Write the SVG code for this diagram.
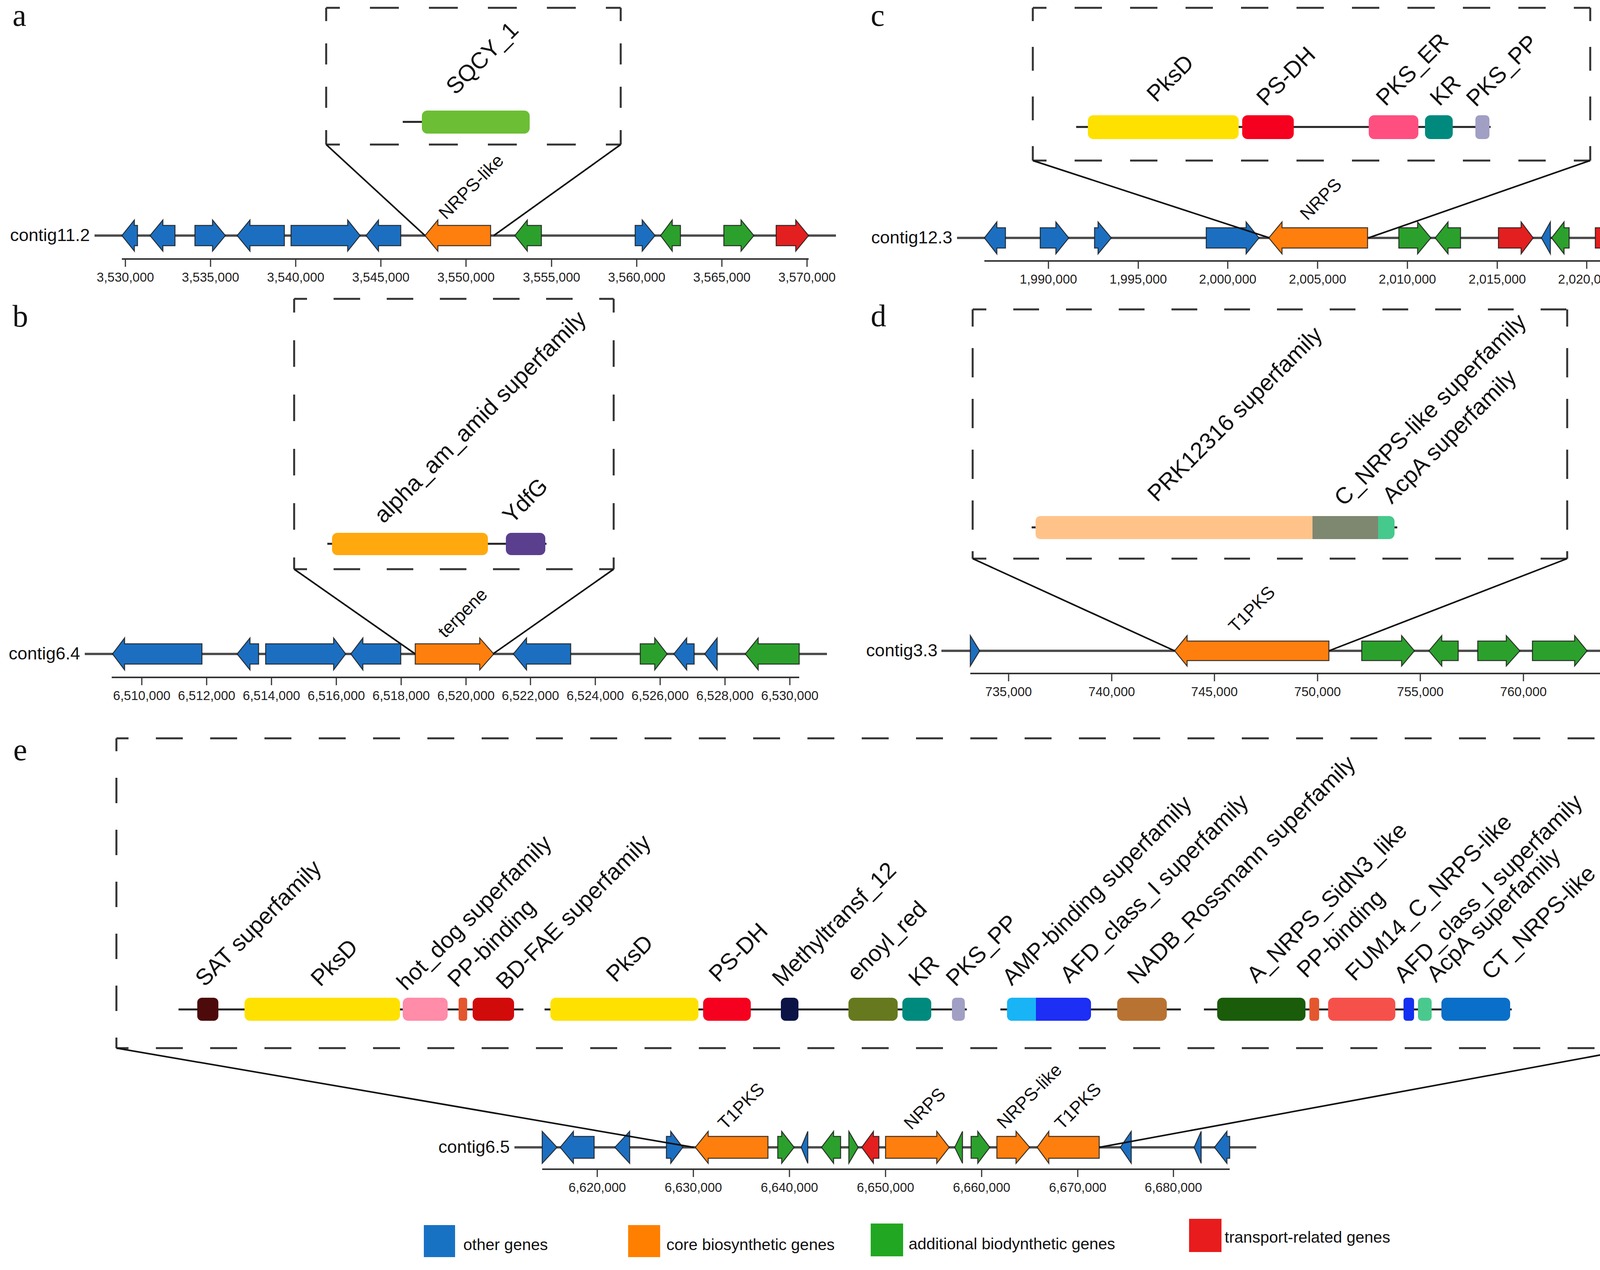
<svg xmlns="http://www.w3.org/2000/svg" width="4370" height="3251" viewBox="0 0 4370 3251">
<style>
text{font-family:"Liberation Sans",Arial,sans-serif;fill:#111}
.pl{font-family:"Liberation Serif","Times New Roman",serif;font-size:80px}
.dom{font-size:59px}
.gl{font-size:46px}
.ax{font-size:33px;text-anchor:middle;fill:#222}
.cn{font-size:45px;text-anchor:end}
.lg{font-size:41px}
.bx{fill:none;stroke:#333;stroke-width:5}
.cl{stroke:#111;stroke-width:4;fill:none}
.ct{stroke:#4d4d4d;stroke-width:6}
.axl{stroke:#333;stroke-width:4}
.tk{stroke:#333;stroke-width:3}
.dr{stroke:#222;stroke-width:5}
.g{stroke:#1a1a1a;stroke-width:2.5;stroke-opacity:.85}
.bl{fill:#1c6fc0}.or{fill:#ff7f0e}.gr{fill:#2ca02c}.rd{fill:#e41f1f}
</style>
<rect width="4370" height="3251" fill="#fff"/>

<!-- ================= Panel a ================= -->
<g id="panel-a">
<text class="pl" x="32" y="66">a</text>
<g id="a-box">
<line class="bx" x1="835" y1="20" x2="1589" y2="20" stroke-dasharray="74 77" stroke-dashoffset="39"/>
<line class="bx" x1="835" y1="370" x2="1589" y2="370" stroke-dasharray="74 77" stroke-dashoffset="39"/>
<line class="bx" x1="835" y1="20" x2="835" y2="370" stroke-dasharray="54 57" stroke-dashoffset="20"/>
<line class="bx" x1="1589" y1="20" x2="1589" y2="370" stroke-dasharray="54 57" stroke-dashoffset="20"/>
</g>
<line class="dr" x1="1031" y1="312" x2="1356" y2="312"/>
<g id="a-d-SQCY_1"><rect x="1080" y="283" width="276" height="59" rx="14" fill="#6cbe35"/>
<text class="dom" transform="translate(1166,245) rotate(-45)">SQCY_1</text></g>

<text class="cn" x="230" y="617">contig11.2</text>
<line class="ct" x1="242" y1="603" x2="2140" y2="603"/>
<g id="a-g1"><polygon class="g bl" points="312,603 344,563 344,577 352,577 352,629 344,629 344,643"/></g>
<g id="a-g2"><polygon class="g bl" points="384,603 417,563 417,577 448,577 448,629 417,629 417,643"/></g>
<g id="a-g3"><polygon class="g bl" points="499,577 544,577 544,563 577,603 544,643 544,629 499,629"/></g>
<g id="a-g4"><polygon class="g bl" points="607,603 640,563 640,577 728,577 728,629 640,629 640,643"/></g>
<g id="a-g5"><polygon class="g bl" points="745,577 890,577 890,563 922,603 890,643 890,629 745,629"/></g>
<g id="a-g6"><polygon class="g bl" points="937,603 969,563 969,577 1026,577 1026,629 969,629 969,643"/></g>
<g id="a-g7"><polygon class="g or" points="1088,603 1121,563 1121,577 1256,577 1256,629 1121,629 1121,643"/>
<text class="gl" transform="translate(1142,564) rotate(-45)">NRPS-like</text></g>
<g id="a-g8"><polygon class="g gr" points="1318,603 1350,563 1350,577 1386,577 1386,629 1350,629 1350,643"/></g>
<g id="a-g9"><polygon class="g bl" points="1626,577 1644,577 1644,563 1677,603 1644,643 1644,629 1626,629"/></g>
<g id="a-g10"><polygon class="g gr" points="1691,603 1721,563 1721,577 1742,577 1742,629 1721,629 1721,643"/></g>
<g id="a-g11"><polygon class="g gr" points="1853,577 1897,577 1897,563 1930,603 1897,643 1897,629 1853,629"/></g>
<g id="a-g12"><polygon class="g rd" points="1987,577 2037,577 2037,563 2070,603 2037,643 2037,629 1987,629"/></g>

<g id="a-axis">
<line class="axl" x1="312" y1="663" x2="2070" y2="663"/>
<path class="tk" d="M321 663v20M539 663v20M757 663v20M975 663v20M1193 663v20M1412 663v20M1630 663v20M1848 663v20M2066 663v20"/>
<text class="ax" x="321" y="721">3,530,000</text>
<text class="ax" x="539" y="721">3,535,000</text>
<text class="ax" x="757" y="721">3,540,000</text>
<text class="ax" x="975" y="721">3,545,000</text>
<text class="ax" x="1193" y="721">3,550,000</text>
<text class="ax" x="1412" y="721">3,555,000</text>
<text class="ax" x="1630" y="721">3,560,000</text>
<text class="ax" x="1848" y="721">3,565,000</text>
<text class="ax" x="2066" y="721">3,570,000</text>
</g>
</g>

<!-- ================= Panel b ================= -->
<g id="panel-b">
<text class="pl" x="32" y="836">b</text>
<g id="b-box">
<line class="bx" x1="753" y1="765" x2="1571" y2="765" stroke-dasharray="68 68" stroke-dashoffset="35"/>
<line class="bx" x1="753" y1="1457" x2="1571" y2="1457" stroke-dasharray="68 68" stroke-dashoffset="35"/>
<line class="bx" x1="753" y1="765" x2="753" y2="1457" stroke-dasharray="68 71" stroke-dashoffset="33"/>
<line class="bx" x1="1571" y1="765" x2="1571" y2="1457" stroke-dasharray="68 71" stroke-dashoffset="33"/>
</g>
<line class="dr" x1="838" y1="1392" x2="1399" y2="1392"/>
<g id="b-d-alpha"><rect x="850" y="1364" width="399" height="57" rx="14" fill="#ffa90e"/>
<text class="dom" transform="translate(982,1342) rotate(-45)">alpha_am_amid superfamily</text></g>
<g id="b-d-YdfG"><rect x="1295" y="1364" width="101" height="57" rx="14" fill="#5a3f8e"/>
<text class="dom" transform="translate(1311,1343) rotate(-45)">YdfG</text></g>

<text class="cn" x="205" y="1688">contig6.4</text>
<line class="ct" x1="217" y1="1674" x2="2117" y2="1674"/>
<g id="b-g1"><polygon class="g bl" points="288,1674 319,1633 319,1648 517,1648 517,1700 319,1700 319,1715"/></g>
<g id="b-g2"><polygon class="g bl" points="607,1674 640,1633 640,1648 662,1648 662,1700 640,1700 640,1715"/></g>
<g id="b-g3"><polygon class="g bl" points="680,1648 854,1648 854,1633 885,1674 854,1715 854,1700 680,1700"/></g>
<g id="b-g4"><polygon class="g bl" points="898,1674 929,1633 929,1648 1026,1648 1026,1700 929,1700 929,1715"/></g>
<g id="b-g5"><polygon class="g or" points="1063,1648 1228,1648 1228,1633 1264,1674 1228,1715 1228,1700 1063,1700"/>
<text class="gl" transform="translate(1140,1635) rotate(-45)">terpene</text></g>
<g id="b-g6"><polygon class="g bl" points="1314,1674 1348,1633 1348,1648 1461,1648 1461,1700 1348,1700 1348,1715"/></g>
<g id="b-g7"><polygon class="g gr" points="1639,1648 1676,1648 1676,1633 1708,1674 1676,1715 1676,1700 1639,1700"/></g>
<g id="b-g8"><polygon class="g bl" points="1725,1674 1758,1633 1758,1648 1777,1648 1777,1700 1758,1700 1758,1715"/></g>
<g id="b-g9"><polygon class="g bl" points="1804,1674 1836,1633 1836,1715"/></g>
<g id="b-g10"><polygon class="g gr" points="1908,1674 1941,1633 1941,1648 2046,1648 2046,1700 1941,1700 1941,1715"/></g>

<g id="b-axis">
<line class="axl" x1="286" y1="1734" x2="2046" y2="1734"/>
<path class="tk" d="M363 1734v20M529 1734v20M695 1734v20M861 1734v20M1027 1734v20M1193 1734v20M1358 1734v20M1524 1734v20M1690 1734v20M1856 1734v20M2022 1734v20"/>
<text class="ax" x="363" y="1792">6,510,000</text>
<text class="ax" x="529" y="1792">6,512,000</text>
<text class="ax" x="695" y="1792">6,514,000</text>
<text class="ax" x="861" y="1792">6,516,000</text>
<text class="ax" x="1027" y="1792">6,518,000</text>
<text class="ax" x="1193" y="1792">6,520,000</text>
<text class="ax" x="1358" y="1792">6,522,000</text>
<text class="ax" x="1524" y="1792">6,524,000</text>
<text class="ax" x="1690" y="1792">6,526,000</text>
<text class="ax" x="1856" y="1792">6,528,000</text>
<text class="ax" x="2022" y="1792">6,530,000</text>
</g>
</g>

<!-- ================= Panel c ================= -->
<g id="panel-c">
<text class="pl" x="2229" y="66">c</text>
<g id="c-box">
<line class="bx" x1="2644" y1="20" x2="4071" y2="20" stroke-dasharray="70 72" stroke-dashoffset="35"/>
<line class="bx" x1="2644" y1="411" x2="4071" y2="411" stroke-dasharray="70 72" stroke-dashoffset="35"/>
<line class="bx" x1="2644" y1="20" x2="2644" y2="411" stroke-dasharray="61 66" stroke-dashoffset="27"/>
<line class="bx" x1="4071" y1="20" x2="4071" y2="411" stroke-dasharray="61 66" stroke-dashoffset="27"/>
</g>
<line class="dr" x1="2755" y1="325" x2="3816" y2="325"/>
<g id="c-d-PksD"><rect x="2785" y="295" width="386" height="61" rx="14" fill="#ffe100"/>
<text class="dom" transform="translate(2960,264) rotate(-45)">PksD</text></g>
<g id="c-d-PS-DH"><rect x="3180" y="295" width="132" height="61" rx="14" fill="#f5001e"/>
<text class="dom" transform="translate(3241,274) rotate(-45)">PS-DH</text></g>
<g id="c-d-PKS_ER"><rect x="3504" y="295" width="127" height="61" rx="14" fill="#ff4f80"/>
<text class="dom" transform="translate(3547,274) rotate(-45)">PKS_ER</text></g>
<g id="c-d-KR"><rect x="3648" y="295" width="71" height="61" rx="14" fill="#008a7e"/>
<text class="dom" transform="translate(3685,274) rotate(-45)">KR</text></g>
<g id="c-d-PKS_PP"><rect x="3777" y="295" width="36" height="61" rx="10" fill="#a19fc4"/>
<text class="dom" transform="translate(3778,276) rotate(-45)">PKS_PP</text></g>

<text class="cn" x="2438" y="623">contig12.3</text>
<line class="ct" x1="2450" y1="609" x2="4349" y2="609"/>
<g id="c-g1"><polygon class="g bl" points="2520,609 2552,568 2552,583 2574,583 2574,635 2552,635 2552,650"/></g>
<g id="c-g2"><polygon class="g bl" points="2663,583 2703,583 2703,568 2736,609 2703,650 2703,635 2663,635"/></g>
<g id="c-g3"><polygon class="g bl" points="2802,583 2811,583 2811,568 2845,609 2811,650 2811,635 2802,635"/></g>
<g id="c-g4"><polygon class="g bl" points="3088,583 3190,583 3190,568 3223,609 3190,650 3190,635 3088,635"/></g>
<g id="c-g5"><polygon class="g or" points="3248,609 3282,568 3282,583 3501,583 3501,635 3282,635 3282,650"/>
<text class="gl" transform="translate(3347,566) rotate(-45)">NRPS</text></g>
<g id="c-g6"><polygon class="g gr" points="3581,583 3629,583 3629,568 3663,609 3629,650 3629,635 3581,635"/></g>
<g id="c-g7"><polygon class="g gr" points="3674,609 3707,568 3707,583 3739,583 3739,635 3707,635 3707,650"/></g>
<g id="c-g8"><polygon class="g rd" points="3836,583 3894,583 3894,568 3925,609 3894,650 3894,635 3836,635"/></g>
<g id="c-g9"><polygon class="g bl" points="3946,609 3969,568 3969,650"/></g>
<g id="c-g10"><polygon class="g gr" points="3972,609 4004,568 4004,583 4017,583 4017,635 4004,635 4004,650"/></g>
<g id="c-g11"><polygon class="g rd" points="4084,583 4245,583 4245,568 4278,609 4245,650 4245,635 4084,635"/></g>

<g id="c-axis">
<line class="axl" x1="2520" y1="668" x2="4278" y2="668"/>
<path class="tk" d="M2684 668v20M2914 668v20M3143 668v20M3373 668v20M3603 668v20M3833 668v20M4062 668v20"/>
<text class="ax" x="2684" y="726">1,990,000</text>
<text class="ax" x="2914" y="726">1,995,000</text>
<text class="ax" x="3143" y="726">2,000,000</text>
<text class="ax" x="3373" y="726">2,005,000</text>
<text class="ax" x="3603" y="726">2,010,000</text>
<text class="ax" x="3833" y="726">2,015,000</text>
<text class="ax" x="4062" y="726">2,020,000</text>
</g>
</g>

<!-- ================= Panel d ================= -->
<g id="panel-d">
<text class="pl" x="2229" y="835">d</text>
<g id="d-box">
<line class="bx" x1="2490" y1="792" x2="4012" y2="792" stroke-dasharray="66 69" stroke-dashoffset="31"/>
<line class="bx" x1="2490" y1="1430" x2="4012" y2="1430" stroke-dasharray="66 69" stroke-dashoffset="31"/>
<line class="bx" x1="2490" y1="792" x2="2490" y2="1430" stroke-dasharray="75 55" stroke-dashoffset="31"/>
<line class="bx" x1="4012" y1="792" x2="4012" y2="1430" stroke-dasharray="75 55" stroke-dashoffset="31"/>
</g>
<line class="dr" x1="2641" y1="1350" x2="3577" y2="1350"/>
<g id="d-d-AcpA"><rect x="3505" y="1321" width="65" height="59" rx="14" fill="#46c98c"/>
<text class="dom" transform="translate(3563,1292) rotate(-45)">AcpA superfamily</text></g>
<g id="d-d-C_NRPS"><rect x="3357" y="1321" width="171" height="59" fill="#7e8770"/>
<text class="dom" transform="translate(3440,1298) rotate(-45)">C_NRPS-like superfamily</text></g>
<g id="d-d-PRK12316"><path d="M3360 1321H2665Q2651 1321 2651 1335V1366Q2651 1380 2665 1380H3360Z" fill="#ffc38a"/>
<text class="dom" transform="translate(2962,1287) rotate(-45)">PRK12316 superfamily</text></g>

<text class="cn" x="2400" y="1680">contig3.3</text>
<line class="ct" x1="2410" y1="1666" x2="4310" y2="1666"/>
<g id="d-g1"><polygon class="g bl" points="2484,1627 2508,1666 2484,1705"/></g>
<g id="d-g2"><polygon class="g or" points="3007,1666 3039,1627 3039,1641 3402,1641 3402,1691 3039,1691 3039,1705"/>
<text class="gl" transform="translate(3164,1622) rotate(-45)">T1PKS</text></g>
<g id="d-g3"><polygon class="g gr" points="3486,1641 3588,1641 3588,1627 3621,1666 3588,1705 3588,1691 3486,1691"/></g>
<g id="d-g4"><polygon class="g gr" points="3658,1666 3691,1627 3691,1641 3733,1641 3733,1691 3691,1691 3691,1705"/></g>
<g id="d-g5"><polygon class="g gr" points="3783,1641 3856,1641 3856,1627 3891,1666 3856,1705 3856,1691 3783,1691"/></g>
<g id="d-g6"><polygon class="g gr" points="3923,1641 4031,1641 4031,1627 4063,1666 4031,1705 4031,1691 3923,1691"/></g>
<g id="d-g7"><polygon class="g bl" points="4201,1666 4230,1627 4230,1641 4244,1641 4244,1691 4230,1691 4230,1705"/></g>

<g id="d-axis">
<line class="axl" x1="2484" y1="1724" x2="4240" y2="1724"/>
<path class="tk" d="M2582 1724v20M2846 1724v20M3109 1724v20M3373 1724v20M3636 1724v20M3900 1724v20M4163 1724v20"/>
<text class="ax" x="2582" y="1782">735,000</text>
<text class="ax" x="2846" y="1782">740,000</text>
<text class="ax" x="3109" y="1782">745,000</text>
<text class="ax" x="3373" y="1782">750,000</text>
<text class="ax" x="3636" y="1782">755,000</text>
<text class="ax" x="3900" y="1782">760,000</text>
<text class="ax" x="4163" y="1782">765,000</text>
</g>
</g>

<!-- ================= Panel e ================= -->
<g id="panel-e">
<text class="pl" x="34" y="1946">e</text>
<g id="e-box">
<line class="bx" x1="298" y1="1890" x2="4192" y2="1890" stroke-dasharray="69 70" stroke-dashoffset="38"/>
<line class="bx" x1="298" y1="2683" x2="4192" y2="2683" stroke-dasharray="69 70" stroke-dashoffset="38"/>
<line class="bx" x1="298" y1="1890" x2="298" y2="2683" stroke-dasharray="65 68" stroke-dashoffset="32"/>
<line class="bx" x1="4192" y1="1890" x2="4192" y2="2683" stroke-dasharray="65 68" stroke-dashoffset="32"/>
</g>
<path class="dr" d="M457 2584H1340M1394 2584H2475M2561 2584H3023M3082 2584H3870"/>
<g id="e-d-SAT"><rect x="505" y="2554" width="54" height="59" rx="12" fill="#4d0a0a"/>
<text class="dom" transform="translate(524,2528) rotate(-45)">SAT superfamily</text></g>
<g id="e-d-PksD1"><rect x="626" y="2554" width="398" height="59" rx="14" fill="#ffe100"/>
<text class="dom" transform="translate(820,2528) rotate(-45)">PksD</text></g>
<g id="e-d-hot_dog"><rect x="1031" y="2554" width="115" height="59" rx="14" fill="#ff8ca8"/>
<text class="dom" transform="translate(1040,2538) rotate(-45)">hot_dog superfamily</text></g>
<g id="e-d-PP1"><rect x="1174" y="2554" width="22" height="59" rx="6" fill="#e4572e"/>
<text class="dom" transform="translate(1170,2530) rotate(-45)">PP-binding</text></g>
<g id="e-d-BD-FAE"><rect x="1210" y="2554" width="106" height="59" rx="14" fill="#d10a0a"/>
<text class="dom" transform="translate(1294,2536) rotate(-45)">BD-FAE superfamily</text></g>
<g id="e-d-PksD2"><rect x="1409" y="2554" width="379" height="59" rx="14" fill="#ffe100"/>
<text class="dom" transform="translate(1576,2517) rotate(-45)">PksD</text></g>
<g id="e-d-PS-DH"><rect x="1800" y="2554" width="122" height="59" rx="14" fill="#f5001e"/>
<text class="dom" transform="translate(1839,2517) rotate(-45)">PS-DH</text></g>
<g id="e-d-Methyltransf"><rect x="1999" y="2554" width="45" height="59" rx="12" fill="#0c1445"/>
<text class="dom" transform="translate(2001,2528) rotate(-45)">Methyltransf_12</text></g>
<g id="e-d-enoyl"><rect x="2172" y="2554" width="126" height="59" rx="14" fill="#66791e"/>
<text class="dom" transform="translate(2193,2514) rotate(-45)">enoyl_red</text></g>
<g id="e-d-KR"><rect x="2310" y="2554" width="74" height="59" rx="14" fill="#008a7e"/>
<text class="dom" transform="translate(2350,2528) rotate(-45)">KR</text></g>
<g id="e-d-PKS_PP"><rect x="2437" y="2554" width="33" height="59" rx="10" fill="#a19fc4"/>
<text class="dom" transform="translate(2446,2528) rotate(-45)">PKS_PP</text></g>
<g id="e-d-AMP"><rect x="2578" y="2554" width="215" height="59" rx="14" fill="#1d2ef5"/>
<path d="M2652 2554H2592Q2578 2554 2578 2568V2599Q2578 2613 2592 2613H2652Z" fill="#18b4f5"/>
<text class="dom" transform="translate(2590,2525) rotate(-45)">AMP-binding superfamily</text></g>
<g id="e-d-AFD1"><text class="dom" transform="translate(2738,2519) rotate(-45)">AFD_class_I superfamily</text></g>
<g id="e-d-NADB"><rect x="2860" y="2554" width="127" height="59" rx="14" fill="#b87333"/>
<text class="dom" transform="translate(2910,2522) rotate(-45)">NADB_Rossmann superfamily</text></g>
<g id="e-d-A_NRPS"><rect x="3116" y="2554" width="226" height="59" rx="14" fill="#1a5c0a"/>
<text class="dom" transform="translate(3216,2519) rotate(-45)">A_NRPS_SidN3_like</text></g>
<g id="e-d-PP2"><rect x="3352" y="2554" width="25" height="59" rx="7" fill="#e4572e"/>
<text class="dom" transform="translate(3344,2506) rotate(-45)">PP-binding</text></g>
<g id="e-d-FUM14"><rect x="3400" y="2554" width="172" height="59" rx="14" fill="#f5514a"/>
<text class="dom" transform="translate(3468,2514) rotate(-45)">FUM14_C_NRPS-like</text></g>
<g id="e-d-AFD2"><rect x="3593" y="2554" width="27" height="59" rx="8" fill="#1530f0"/>
<text class="dom" transform="translate(3593,2519) rotate(-45)">AFD_class_I superfamily</text></g>
<g id="e-d-AcpA"><rect x="3630" y="2554" width="35" height="59" rx="10" fill="#4ac98e"/>
<text class="dom" transform="translate(3676,2517) rotate(-45)">AcpA superfamily</text></g>
<g id="e-d-CT"><rect x="3690" y="2554" width="176" height="59" rx="14" fill="#0a6fc8"/>
<text class="dom" transform="translate(3817,2511) rotate(-45)">CT_NRPS-like</text></g>

<text class="cn" x="1305" y="2951">contig6.5</text>
<line class="ct" x1="1317" y1="2937" x2="3216" y2="2937"/>
<g id="e-g1"><polygon class="g bl" points="1388,2896 1426,2937 1388,2978"/></g>
<g id="e-g2"><polygon class="g bl" points="1434,2937 1468,2896 1468,2909 1521,2909 1521,2965 1468,2965 1468,2978"/></g>
<g id="e-g3"><polygon class="g bl" points="1574,2937 1612,2896 1612,2978"/></g>
<g id="e-g4"><polygon class="g bl" points="1706,2909 1717,2909 1717,2896 1748,2937 1717,2978 1717,2965 1706,2965"/></g>
<g id="e-g5"><polygon class="g or" points="1780,2937 1813,2896 1813,2909 1966,2909 1966,2965 1813,2965 1813,2978"/>
<text class="gl" transform="translate(1857,2894) rotate(-45)">T1PKS</text></g>
<g id="e-g6"><polygon class="g gr" points="1991,2909 2001,2909 2001,2896 2033,2937 2001,2978 2001,2965 1991,2965"/></g>
<g id="e-g7"><polygon class="g bl" points="2051,2937 2068,2896 2068,2978"/></g>
<g id="e-g8"><polygon class="g gr" points="2103,2937 2134,2896 2134,2909 2152,2909 2152,2965 2134,2965 2134,2978"/></g>
<g id="e-g9"><polygon class="g gr" points="2173,2896 2197,2937 2173,2978"/></g>
<g id="e-g10"><polygon class="g rd" points="2206,2937 2236,2896 2236,2909 2250,2909 2250,2965 2236,2965 2236,2978"/></g>
<g id="e-g11"><polygon class="g or" points="2267,2909 2398,2909 2398,2896 2430,2937 2398,2978 2398,2965 2267,2965"/>
<text class="gl" transform="translate(2333,2894) rotate(-45)">NRPS</text></g>
<g id="e-g12"><polygon class="g gr" points="2444,2937 2464,2896 2464,2978"/></g>
<g id="e-g13"><polygon class="g gr" points="2486,2909 2503,2909 2503,2896 2534,2937 2503,2978 2503,2965 2486,2965"/></g>
<g id="e-g14"><polygon class="g or" points="2552,2909 2601,2909 2601,2896 2636,2937 2601,2978 2601,2965 2552,2965"/>
<text class="gl" transform="translate(2571,2892) rotate(-45)">NRPS-like</text></g>
<g id="e-g15"><polygon class="g or" points="2655,2937 2685,2896 2685,2909 2814,2909 2814,2965 2685,2965 2685,2978"/>
<text class="gl" transform="translate(2719,2894) rotate(-45)">T1PKS</text></g>
<g id="e-g16"><polygon class="g bl" points="2868,2937 2896,2896 2896,2978"/></g>
<g id="e-g17"><polygon class="g bl" points="3057,2937 3075,2896 3075,2978"/></g>
<g id="e-g18"><polygon class="g bl" points="3109,2937 3141,2896 3141,2909 3148,2909 3148,2965 3141,2965 3141,2978"/></g>

<g id="e-axis">
<line class="axl" x1="1388" y1="2993" x2="3148" y2="2993"/>
<path class="tk" d="M1529 2993v20M1775 2993v20M2021 2993v20M2267 2993v20M2513 2993v20M2759 2993v20M3004 2993v20"/>
<text class="ax" x="1529" y="3051">6,620,000</text>
<text class="ax" x="1775" y="3051">6,630,000</text>
<text class="ax" x="2021" y="3051">6,640,000</text>
<text class="ax" x="2267" y="3051">6,650,000</text>
<text class="ax" x="2513" y="3051">6,660,000</text>
<text class="ax" x="2759" y="3051">6,670,000</text>
<text class="ax" x="3004" y="3051">6,680,000</text>
</g>
</g>

<!-- ================= Connectors ================= -->
<g id="connectors">
<line class="cl" x1="835" y1="370" x2="1088" y2="603"/>
<line class="cl" x1="1589" y1="370" x2="1264" y2="603"/>
<line class="cl" x1="753" y1="1457" x2="1063" y2="1674"/>
<line class="cl" x1="1571" y1="1457" x2="1262" y2="1674"/>
<line class="cl" x1="2644" y1="411" x2="3250" y2="609"/>
<line class="cl" x1="4071" y1="411" x2="3503" y2="609"/>
<line class="cl" x1="2490" y1="1430" x2="3007" y2="1666"/>
<line class="cl" x1="4012" y1="1430" x2="3402" y2="1666"/>
<line class="cl" x1="298" y1="2683" x2="1776" y2="2937"/>
<line class="cl" x1="4192" y1="2683" x2="2814" y2="2937"/>
</g>

<!-- ================= Legend ================= -->
<g id="legend">
<g id="lg-other"><rect x="1085" y="3136" width="80" height="82" fill="#1872c4"/><text class="lg" x="1186" y="3200">other genes</text></g>
<g id="lg-core"><rect x="1608" y="3136" width="82" height="82" fill="#ff8000"/><text class="lg" x="1706" y="3200">core biosynthetic genes</text></g>
<g id="lg-add"><rect x="2229" y="3132" width="83" height="84" fill="#22a722"/><text class="lg" x="2326" y="3198">additional biodynthetic genes</text></g>
<g id="lg-trans"><rect x="3044" y="3120" width="83" height="85" fill="#e81c1c"/><text class="lg" x="3135" y="3181">transport-related genes</text></g>
</g>
</svg>
